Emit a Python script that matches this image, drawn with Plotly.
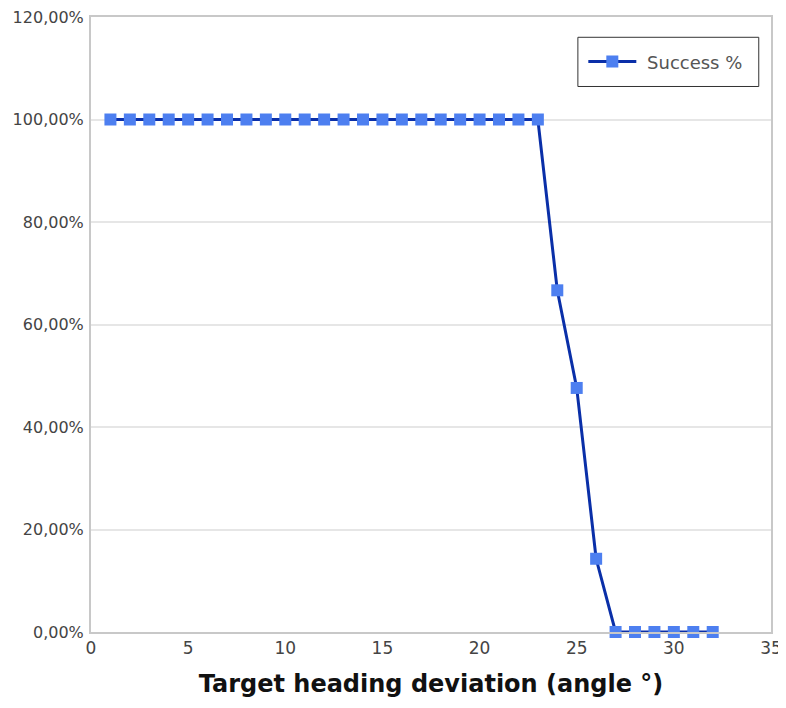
import plotly.graph_objects as go

angles = list(range(1, 33))
success = [1.0] * 23 + [0.6667, 0.4762, 0.1429] + [0.0] * 6

y_ticks = [0, 0.2, 0.4, 0.6, 0.8, 1.0, 1.2]
x_ticks = [0, 5, 10, 15, 20, 25, 30, 35]

fig = go.Figure()

fig.add_trace(go.Scatter(
    x=angles,
    y=success,
    mode="lines+markers",
    name="\u00a0Success %",
    cliponaxis=False,
    line=dict(color="#0a2fa8", width=3),
    marker=dict(symbol="square", size=12, color="#4d7ff0",
                line=dict(width=0)),
))

# legend frame drawn by hand so it can be roomier than plotly's own
fig.add_shape(type="rect", xref="paper", yref="paper",
              x0=0.716, x1=0.982, y0=0.887, y1=0.967,
              line=dict(color="#333333", width=1), fillcolor="white",
              layer="below")

# the page body adds an 8px offset, so the figure is 8px smaller
fig.update_layout(
    width=778,
    height=700,
    margin=dict(l=83, r=15, t=9, b=76),
    plot_bgcolor="white",
    paper_bgcolor="white",
    separators=", ",
    font=dict(family="DejaVu Sans", color="#444444"),
    xaxis=dict(
        range=[0, 35],
        tickvals=x_ticks,
        showgrid=False,
        zeroline=False,
        showline=True,
        linecolor="#c8c8c8",
        linewidth=2,
        mirror=True,
        ticks="",
        automargin=False,
        ticklabeloverflow="allow",
        tickfont=dict(size=17, color="#444444"),
        title=dict(text="<b>Target heading deviation (angle °)</b>",
                   font=dict(size=24, color="#111111"), standoff=18),
    ),
    yaxis=dict(
        range=[0, 1.2],
        tickvals=y_ticks,
        tickformat=".2%",
        showgrid=True,
        gridcolor="#e6e6e6",
        gridwidth=1.5,
        zeroline=False,
        showline=True,
        linecolor="#c8c8c8",
        linewidth=2,
        mirror=True,
        ticks="",
        automargin=False,
        ticklabeloverflow="allow",
        ticklabelstandoff=2,
        tickfont=dict(size=16, color="#444444"),
    ),
    legend=dict(
        x=0.724, y=0.927,
        xanchor="left", yanchor="middle",
        bgcolor="rgba(0,0,0,0)",
        borderwidth=0,
        font=dict(size=18, color="#555555"),
        itemwidth=48,
    ),
    showlegend=True,
)

fig.write_html("out.html")
